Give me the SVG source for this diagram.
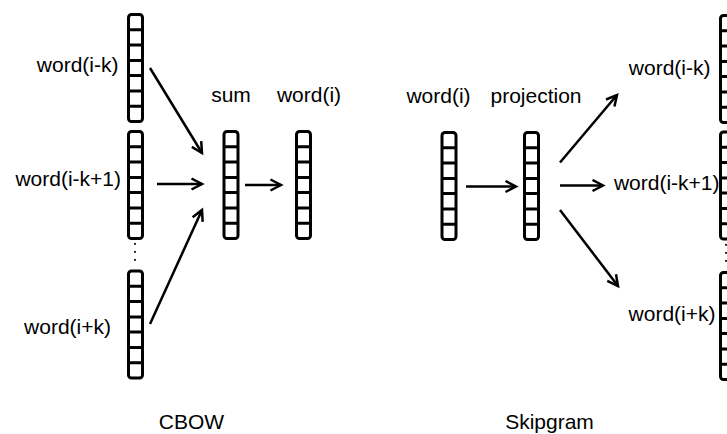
<svg xmlns="http://www.w3.org/2000/svg" xmlns:xlink="http://www.w3.org/1999/xlink" width="727" height="434" viewBox="0 0 727 434">
  <style>
    .vec { fill: #fff; stroke: #000; stroke-width: 3; }
    .cell { stroke: #000; stroke-width: 3; fill: none; }
    .lbl { font-family: "Liberation Sans", Arial, sans-serif; font-size: 21px; fill: #000; }
    .edge { stroke: #000; stroke-width: 2.5; fill: none; marker-end: url(#arrow); }
    .dots { stroke: #000; stroke-width: 1.8; stroke-dasharray: 1.8 6.2; fill: none; }
  </style>
  <defs>
    <marker id="arrow" markerUnits="userSpaceOnUse" markerWidth="16" markerHeight="16" refX="12" refY="7" orient="auto">
      <path d="M1.5,1.5 L12,7 L1.5,12.5" fill="none" stroke="#000" stroke-width="2.5"/>
    </marker>
    <!-- a 7-cell vector, 14 x 107 -->
    <g id="vec">
      <rect class="vec" x="0" y="0" width="14" height="107" rx="3"/>
      <path class="cell" d="M0,15.3H14M0,30.6H14M0,45.9H14M0,61.1H14M0,76.4H14M0,91.7H14"/>
    </g>
  </defs>

  <!-- CBOW -->
  <g id="cbow-in-1">
    <use xlink:href="#vec" x="128.5" y="14.5"/>
    <text class="lbl" x="118.5" y="72" text-anchor="end">word(i-k)</text>
  </g>
  <g id="cbow-in-2">
    <use xlink:href="#vec" x="128.5" y="131.5"/>
    <text class="lbl" x="121" y="186" text-anchor="end">word(i-k+1)</text>
  </g>
  <path class="dots" d="M135,243V262"/>
  <g id="cbow-in-3">
    <use xlink:href="#vec" x="128.5" y="271"/>
    <text class="lbl" x="111" y="334" text-anchor="end">word(i+k)</text>
  </g>
  <g id="cbow-sum">
    <use xlink:href="#vec" x="224" y="131.5"/>
    <text class="lbl" x="231" y="102" text-anchor="middle">sum</text>
  </g>
  <g id="cbow-out">
    <use xlink:href="#vec" x="296.5" y="131.5"/>
    <text class="lbl" x="309" y="102" text-anchor="middle">word(i)</text>
  </g>
  <text class="lbl" x="191.5" y="429" text-anchor="middle">CBOW</text>

  <!-- Skipgram -->
  <g id="sg-in">
    <use xlink:href="#vec" x="442" y="132.5"/>
    <text class="lbl" x="438.5" y="103" text-anchor="middle">word(i)</text>
  </g>
  <g id="sg-proj">
    <use xlink:href="#vec" x="524.5" y="132.5"/>
    <text class="lbl" x="536" y="103" text-anchor="middle">projection</text>
  </g>
  <g id="sg-out-1">
    <use xlink:href="#vec" x="720.5" y="15.5"/>
    <text class="lbl" x="710.5" y="75" text-anchor="end">word(i-k)</text>
  </g>
  <g id="sg-out-2">
    <use xlink:href="#vec" x="720.5" y="132"/>
    <text class="lbl" x="719.5" y="190" text-anchor="end">word(i-k+1)</text>
  </g>
  <path class="dots" d="M726,244V263"/>
  <g id="sg-out-3">
    <use xlink:href="#vec" x="720.5" y="272.5"/>
    <text class="lbl" x="715.5" y="321" text-anchor="end">word(i+k)</text>
  </g>
  <text class="lbl" x="549.5" y="429" text-anchor="middle">Skipgram</text>

  <!-- connectors -->
  <g id="edges">
    <path class="edge" d="M150,68L202,153"/>
    <path class="edge" d="M157,184H202"/>
    <path class="edge" d="M150,324L202,210"/>
    <path class="edge" d="M245,185H281"/>
    <path class="edge" d="M466,186.5H516"/>
    <path class="edge" d="M560,162.5L617,95"/>
    <path class="edge" d="M560,185.5H603"/>
    <path class="edge" d="M560,210L618,286"/>
  </g>
</svg>
